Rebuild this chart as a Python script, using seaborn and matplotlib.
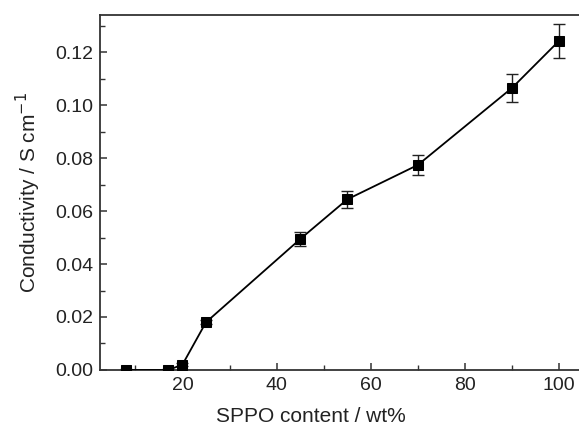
import numpy as np
import pandas as pd
import matplotlib
matplotlib.use("Agg")
import matplotlib.pyplot as plt
import seaborn as sns
from matplotlib.ticker import MultipleLocator, FormatStrFormatter

sppo_content = [8, 17, 20, 25, 45, 55, 70, 90, 100]
conductivity = [0.0, 0.0, 0.002, 0.018, 0.0494, 0.0644, 0.0774, 0.1065, 0.1243]
conductivity_err = [0.0003, 0.0003, 0.0005, 0.0008, 0.0027, 0.0031, 0.0039, 0.0052, 0.0064]

df = pd.DataFrame({"x": sppo_content, "y": conductivity, "err": conductivity_err})

sns.set_theme(style="ticks")
plt.rcParams["font.family"] = ["Liberation Sans", "DejaVu Sans"]

fig = plt.figure(figsize=(5.79, 4.38), dpi=100)
ax = fig.add_axes([0.1727, 0.1553, 0.8273, 0.8105])

ax.errorbar(df["x"], df["y"], yerr=df["err"], fmt="none", ecolor="#222222",
            elinewidth=1.0, capsize=4.5, capthick=1.0, zorder=2)
sns.lineplot(data=df, x="x", y="y", ax=ax, color="black", linewidth=1.3,
             marker="s", markersize=7.5, markeredgecolor="black",
             markerfacecolor="black", zorder=3, legend=False)

ax.set_xlim(2.5, 104.2)
ax.set_ylim(0, 0.134)
ax.xaxis.set_major_locator(MultipleLocator(20))
ax.xaxis.set_minor_locator(MultipleLocator(10))
ax.yaxis.set_major_locator(MultipleLocator(0.02))
ax.yaxis.set_minor_locator(MultipleLocator(0.01))
ax.yaxis.set_major_formatter(FormatStrFormatter("%.2f"))
ax.set_xticks([20, 40, 60, 80, 100])

for s in ["left", "bottom", "top"]:
    ax.spines[s].set_visible(True)
    ax.spines[s].set_linewidth(1.3)
    ax.spines[s].set_color("#333333")
ax.spines["right"].set_visible(False)

ax.tick_params(which="major", direction="in", length=5, width=1.1, colors="#333333",
               labelsize=14, labelcolor="#222222", top=False, right=False, pad=5)
ax.tick_params(which="minor", direction="in", length=3.5, width=1.0, colors="#333333",
               top=False, right=False)

ax.set_xlabel("SPPO content / wt%", fontsize=15, color="#222222")
ax.set_ylabel("Conductivity / S cm$^{-1}$", fontsize=15, color="#222222")
ax.xaxis.set_label_coords(0.44, -0.105)
ax.yaxis.set_label_coords(-0.12, 0.5)

fig.savefig("out.png", dpi=100)
